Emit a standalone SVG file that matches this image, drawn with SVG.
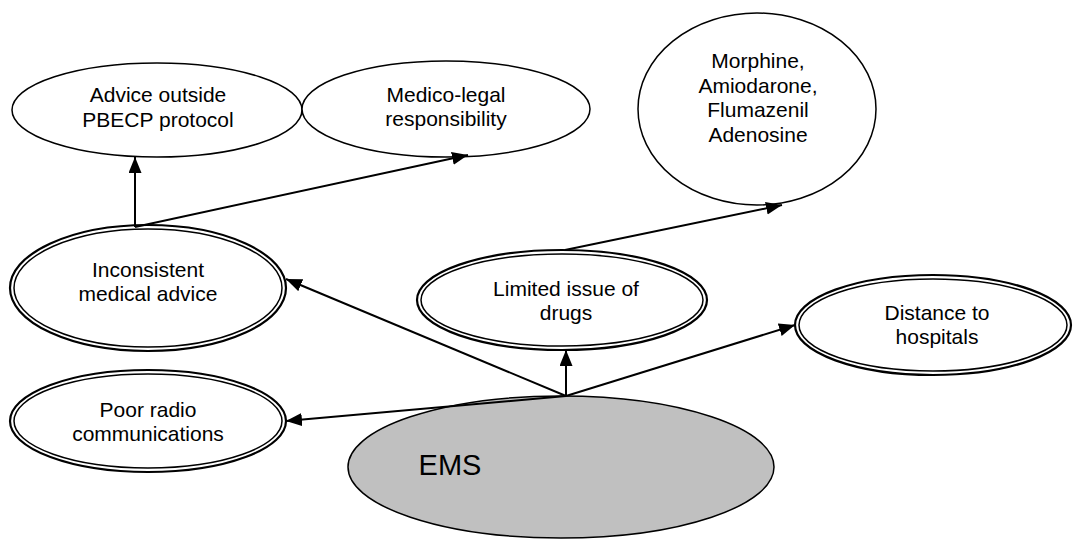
<svg xmlns="http://www.w3.org/2000/svg" width="1091" height="539" viewBox="0 0 1091 539">
<style>
  text { font-family: "Liberation Sans", Arial, sans-serif; font-size: 21px; fill: #000; text-anchor: middle; }
  .plain { fill: #fff; stroke: #000; stroke-width: 1.5; }
  .outer { fill: #fff; stroke: #000; stroke-width: 2.2; }
  .inner { fill: none; stroke: #000; stroke-width: 1.5; }
  .ems { fill: #c0c0c0; stroke: #000; stroke-width: 1.5; }
  .conn { stroke: #000; stroke-width: 2; fill: none; marker-end: url(#arrow); }
</style>
<defs>
  <marker id="arrow" markerUnits="userSpaceOnUse" markerWidth="17" markerHeight="14" refX="16" refY="6.5" orient="auto">
    <path d="M0,0 L16,6.5 L0,13 Z" fill="#000"/>
  </marker>
</defs>
<rect width="1091" height="539" fill="#fff"/>
<g id="ems">
  <ellipse class="ems" cx="561" cy="467" rx="213" ry="71"/>
  <text x="450" y="475" style="font-size:29px">EMS</text>
</g>
<g id="advice">
  <ellipse class="plain" cx="157" cy="110" rx="145" ry="47"/>
  <text x="158" y="102">Advice outside</text>
  <text x="158" y="127">PBECP protocol</text>
</g>
<g id="medico">
  <ellipse class="plain" cx="446" cy="109" rx="144" ry="48"/>
  <text x="446" y="102">Medico-legal</text>
  <text x="446" y="126">responsibility</text>
</g>
<g id="drugs-list">
  <ellipse class="plain" cx="757" cy="109" rx="119" ry="96"/>
  <text x="758" y="68">Morphine,</text>
  <text x="758" y="93">Amiodarone,</text>
  <text x="758" y="117">Flumazenil</text>
  <text x="758" y="142">Adenosine</text>
</g>
<g id="inconsistent">
  <ellipse class="outer" cx="148" cy="288" rx="138" ry="63"/>
  <ellipse class="inner" cx="148" cy="288" rx="134" ry="59"/>
  <text x="148" y="277">Inconsistent</text>
  <text x="148" y="301">medical advice</text>
</g>
<g id="poor-radio">
  <ellipse class="outer" cx="148" cy="421" rx="138" ry="51"/>
  <ellipse class="inner" cx="148" cy="421" rx="134" ry="47"/>
  <text x="148" y="417">Poor radio</text>
  <text x="148" y="441">communications</text>
</g>
<g id="limited">
  <ellipse class="outer" cx="562" cy="300" rx="145" ry="50"/>
  <ellipse class="inner" cx="562" cy="300" rx="141" ry="46"/>
  <text x="566" y="296">Limited issue of</text>
  <text x="566" y="320">drugs</text>
</g>
<g id="distance">
  <ellipse class="outer" cx="933" cy="325" rx="138" ry="50"/>
  <ellipse class="inner" cx="933" cy="325" rx="134" ry="46"/>
  <text x="937" y="320">Distance to</text>
  <text x="937" y="344">hospitals</text>
</g>
<g id="connectors">
  <path class="conn" d="M135,227 L135,157"/>
  <path class="conn" d="M135,227 L468,155"/>
  <path class="conn" d="M565,250 L782,205"/>
  <path class="conn" d="M566,396 L286,279"/>
  <path class="conn" d="M566,396 L566,350"/>
  <path class="conn" d="M566,396 L795,325"/>
  <path class="conn" d="M566,396 L286,421"/>
</g>
</svg>
